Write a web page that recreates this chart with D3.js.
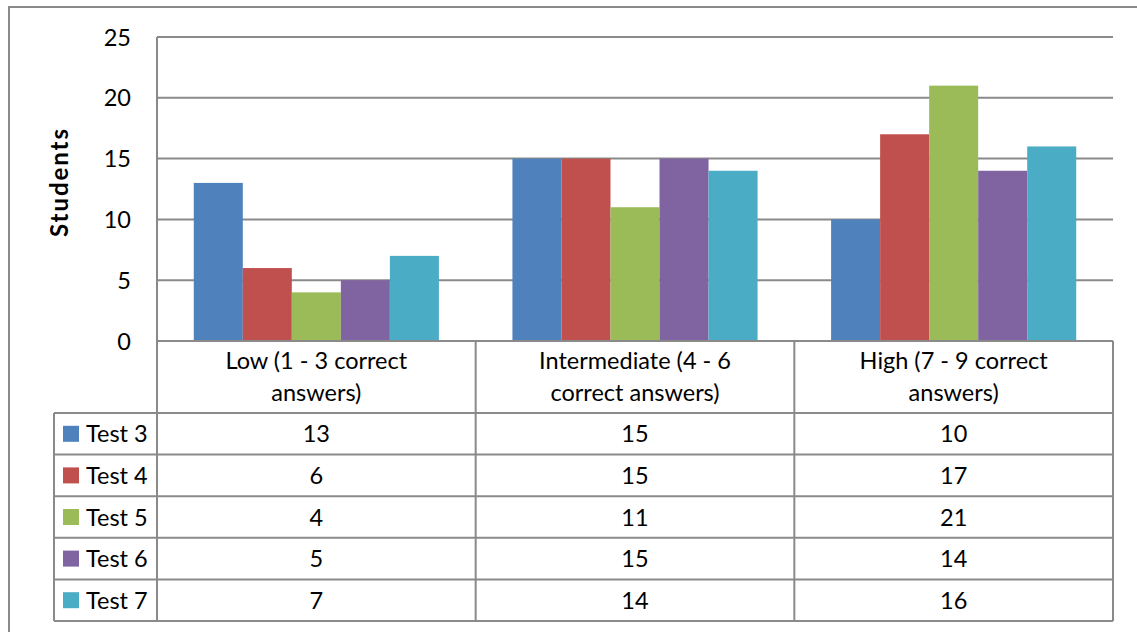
<!DOCTYPE html>
<html>
<head>
<meta charset="utf-8">
<script src="https://cdn.jsdelivr.net/npm/d3@7"></script>
<style>
  body { margin: 0; background: #fff; }
  text { font-family: 'Lato', 'Noto Sans', sans-serif; fill: #000; }
</style>
</head>
<body>
<script>
  // chart values
  const categories = [
    ['Low (1 - 3 correct', 'answers)'],
    ['Intermediate (4 - 6', 'correct answers)'],
    ['High (7 - 9 correct', 'answers)']
  ];
  const seriesNames = ['Test 3', 'Test 4', 'Test 5', 'Test 6', 'Test 7'];
  const test3 = [13, 15, 10];
  const test4 = [6, 15, 17];
  const test5 = [4, 11, 21];
  const test6 = [5, 15, 14];
  const test7 = [7, 14, 16];
  const yTicks = [0, 5, 10, 15, 20, 25];
  const colors = ['#4f81bd', '#c0504d', '#9bbb59', '#8064a2', '#4bacc6'];

  const values = [test3, test4, test5, test6, test7];
  const lineColor = '#8a8a8a';
  const fontSize = '23.5px';

  const svg = d3.select('body').append('svg')
    .attr('width', 1137)
    .attr('height', 632);

  // outer chart frame
  svg.append('rect')
    .attr('x', 9).attr('y', 7)
    .attr('width', 1140).attr('height', 640)
    .attr('fill', 'none')
    .attr('stroke', lineColor)
    .attr('stroke-width', 2);

  const plotLeft = 157, plotRight = 1113, plotTop = 37, plotBottom = 341;

  const x = d3.scaleBand()
    .domain(d3.range(categories.length))
    .range([plotLeft, plotRight]);

  // gap width 150% of a bar
  const barW = x.bandwidth() / (seriesNames.length + 1.5);
  const xs = d3.scaleBand()
    .domain(d3.range(seriesNames.length))
    .range([barW * 0.75, x.bandwidth() - barW * 0.75]);

  const y = d3.scaleLinear()
    .domain([0, 25])
    .range([plotBottom, plotTop]);

  // gridlines
  svg.selectAll('.grid')
    .data(yTicks.filter(t => t > 0))
    .enter().append('line')
      .attr('x1', plotLeft).attr('x2', plotRight)
      .attr('y1', d => y(d)).attr('y2', d => y(d))
      .attr('stroke', lineColor)
      .attr('stroke-width', 2);

  // y tick labels
  svg.selectAll('.ytick')
    .data(yTicks)
    .enter().append('text')
      .attr('x', 131)
      .attr('y', d => y(d) + 8.5)
      .attr('text-anchor', 'end')
      .style('font-size', fontSize)
      .text(d => d);

  // y axis title
  svg.append('text')
    .attr('transform', 'translate(68, 183)rotate(-90)')
    .attr('text-anchor', 'middle')
    .attr('textLength', 108)
    .attr('lengthAdjust', 'spacing')
    .style('font-size', '24px')
    .style('font-weight', 'bold')
    .text('Students');

  // bars
  seriesNames.forEach((name, si) => {
    svg.selectAll('.bar' + si)
      .data(values[si])
      .enter().append('rect')
        .attr('x', (d, i) => x(i) + xs(si))
        .attr('y', d => y(d))
        .attr('width', xs.bandwidth())
        .attr('height', d => y(0) - y(d))
        .attr('fill', colors[si]);
  });

  // data table
  const rowTop = 413, rowH = 41.6, legLeft = 54;
  const rowY = i => rowTop + i * rowH;
  const tableBottom = rowY(seriesNames.length);
  const colEdges = [plotLeft].concat(d3.range(categories.length).map(i => x(i) + x.bandwidth()));

  // horizontal lines
  svg.append('line')
    .attr('x1', plotLeft).attr('x2', plotRight)
    .attr('y1', plotBottom).attr('y2', plotBottom)
    .attr('stroke', lineColor).attr('stroke-width', 2);
  svg.selectAll('.hline')
    .data(d3.range(seriesNames.length + 1))
    .enter().append('line')
      .attr('x1', legLeft).attr('x2', plotRight)
      .attr('y1', d => rowY(d)).attr('y2', d => rowY(d))
      .attr('stroke', lineColor).attr('stroke-width', 2);

  // vertical lines
  svg.append('line')
    .attr('x1', plotLeft).attr('x2', plotLeft)
    .attr('y1', plotTop).attr('y2', tableBottom)
    .attr('stroke', lineColor).attr('stroke-width', 2);
  svg.selectAll('.vline')
    .data(colEdges.slice(1))
    .enter().append('line')
      .attr('x1', d => d).attr('x2', d => d)
      .attr('y1', plotBottom).attr('y2', tableBottom)
      .attr('stroke', lineColor).attr('stroke-width', 2);
  svg.append('line')
    .attr('x1', legLeft).attr('x2', legLeft)
    .attr('y1', rowTop).attr('y2', tableBottom)
    .attr('stroke', lineColor).attr('stroke-width', 2);

  // category labels
  categories.forEach((lines, i) => {
    const t = svg.append('text')
      .attr('text-anchor', 'middle')
      .style('font-size', fontSize);
    lines.forEach((ln, k) => {
      t.append('tspan')
        .attr('x', x(i) + x.bandwidth() / 2)
        .attr('y', 369 + k * 32)
        .text(ln);
    });
  });

  // legend keys and values
  seriesNames.forEach((name, si) => {
    const cy = rowY(si) + rowH / 2;
    svg.append('rect')
      .attr('x', 63).attr('y', cy - 8)
      .attr('width', 16).attr('height', 16)
      .attr('fill', colors[si]);
    svg.append('text')
      .attr('x', 86).attr('y', cy + 8.5)
      .style('font-size', fontSize)
      .text(name);
    values[si].forEach((v, i) => {
      svg.append('text')
        .attr('x', x(i) + x.bandwidth() / 2)
        .attr('y', cy + 8.5)
        .attr('text-anchor', 'middle')
        .style('font-size', fontSize)
        .text(v);
    });
  });
</script>
</body>
</html>
